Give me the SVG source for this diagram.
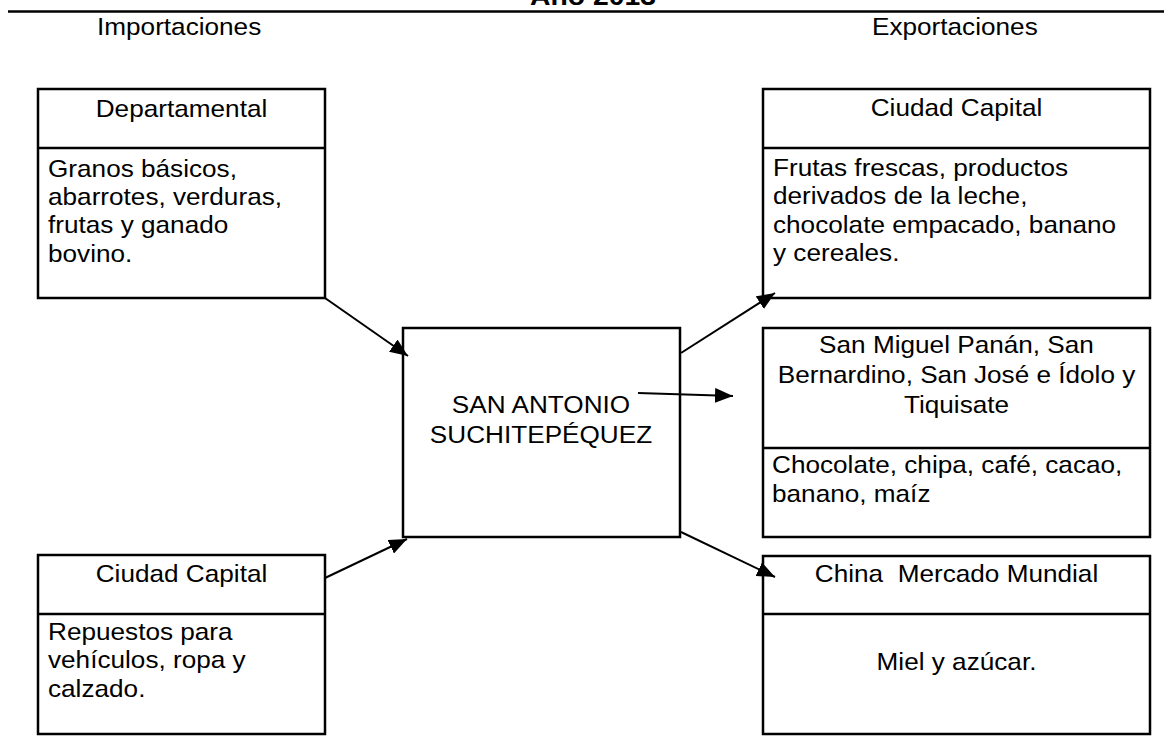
<svg xmlns="http://www.w3.org/2000/svg" width="1168" height="744" viewBox="0 0 1168 744">
<defs>
<style>
.t{font-family:"Liberation Sans",Arial,sans-serif;font-size:24px;fill:#000}
.c{text-anchor:middle}
.b{fill:#fff;stroke:#000;stroke-width:2.5}
.d{stroke:#000;stroke-width:2.5}
.a{stroke:#000;stroke-width:2;fill:none;marker-end:url(#ah)}
.title{font-family:"Liberation Sans",Arial,sans-serif;font-size:26px;font-weight:bold;text-anchor:middle}
</style>
<marker id="ah" markerUnits="userSpaceOnUse" markerWidth="18" markerHeight="15" viewBox="0 0 18 15" refX="18" refY="7.5" orient="auto">
<path d="M0,0 L18,7.5 L0,15 z" fill="#000"/>
</marker>
</defs>
<rect width="1168" height="744" fill="#fff"/>
<g id="header">
<text class="title" transform="translate(593,5) scale(1.09,1)">Año 2013</text>
<line x1="8" y1="11.5" x2="1164" y2="11.5" stroke="#000" stroke-width="2.5"/>
<text class="t" transform="translate(97,35) scale(1.09,1)">Importaciones</text>
<text class="t" transform="translate(872,35) scale(1.09,1)">Exportaciones</text>
</g>
<g id="imp-departamental">
<rect class="b" x="38" y="89" width="287" height="209"/>
<line class="d" x1="38" y1="148" x2="325" y2="148"/>
<text class="t c" transform="translate(181.5,116.5) scale(1.09,1)">Departamental</text>
<text class="t" transform="translate(48,176.5) scale(1.09,1)"><tspan x="0" y="0">Granos básicos,</tspan><tspan x="0" y="28.5">abarrotes, verduras,</tspan><tspan x="0" y="57">frutas y ganado</tspan><tspan x="0" y="85.5">bovino.</tspan></text>
</g>
<g id="imp-capital">
<rect class="b" x="38" y="555" width="287" height="179"/>
<line class="d" x1="38" y1="614" x2="325" y2="614"/>
<text class="t c" transform="translate(181.5,581.5) scale(1.09,1)">Ciudad Capital</text>
<text class="t" transform="translate(48,640) scale(1.09,1)"><tspan x="0" y="0">Repuestos para</tspan><tspan x="0" y="28.5">vehículos, ropa y</tspan><tspan x="0" y="57">calzado.</tspan></text>
</g>
<g id="centro">
<rect class="b" x="403" y="328" width="277" height="209"/>
<text class="t c" transform="translate(541,413) scale(1.09,1)"><tspan x="0" y="0">SAN ANTONIO</tspan><tspan x="0" y="30">SUCHITEPÉQUEZ</tspan></text>
</g>
<g id="exp-capital">
<rect class="b" x="763" y="89" width="387" height="209"/>
<line class="d" x1="763" y1="148" x2="1150" y2="148"/>
<text class="t c" transform="translate(956.5,116) scale(1.09,1)">Ciudad Capital</text>
<text class="t" transform="translate(773,176) scale(1.09,1)"><tspan x="0" y="0">Frutas frescas, productos</tspan><tspan x="0" y="28.5">derivados de la leche,</tspan><tspan x="0" y="57">chocolate empacado, banano</tspan><tspan x="0" y="85.5">y cereales.</tspan></text>
</g>
<g id="exp-municipios">
<rect class="b" x="763" y="328" width="387" height="209"/>
<line class="d" x1="763" y1="448" x2="1150" y2="448"/>
<text class="t c" transform="translate(956.5,353) scale(1.09,1)"><tspan x="0" y="0">San Miguel Panán, San</tspan><tspan x="0" y="30">Bernardino, San José e Ídolo y</tspan><tspan x="0" y="60">Tiquisate</tspan></text>
<text class="t" transform="translate(772,473) scale(1.09,1)"><tspan x="0" y="0">Chocolate, chipa, café, cacao,</tspan><tspan x="0" y="29">banano, maíz</tspan></text>
</g>
<g id="exp-china">
<rect class="b" x="763" y="556" width="387" height="178"/>
<line class="d" x1="763" y1="614" x2="1150" y2="614"/>
<text class="t c" transform="translate(956.5,582) scale(1.09,1)" xml:space="preserve">China  Mercado Mundial</text>
<text class="t c" transform="translate(956.5,670) scale(1.09,1)">Miel y azúcar.</text>
</g>
<g id="connectors">
<line class="a" x1="325" y1="298" x2="408" y2="356"/>
<line class="a" x1="325" y1="578" x2="407" y2="539"/>
<line class="a" x1="681" y1="353" x2="775" y2="293"/>
<line class="a" x1="638" y1="393" x2="733" y2="396"/>
<line class="a" x1="681" y1="532" x2="775" y2="577"/>
</g>
</svg>
